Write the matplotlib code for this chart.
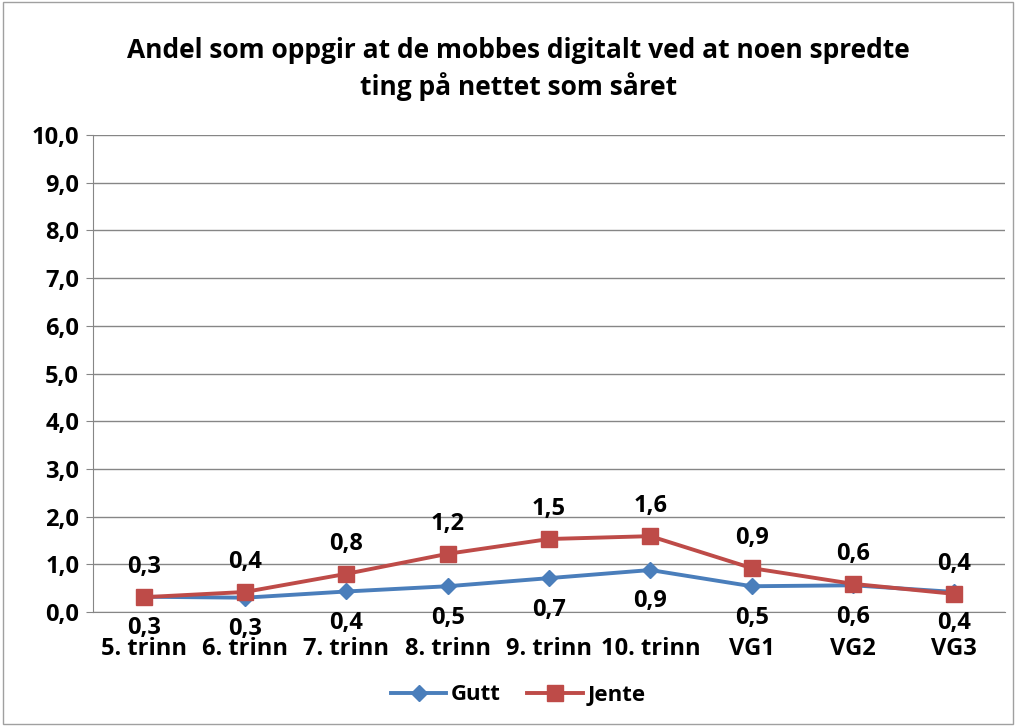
import matplotlib.pyplot as plt
import numpy as np

categories = ['5. trinn', '6. trinn', '7. trinn', '8. trinn', '9. trinn',
              '10. trinn', 'VG1', 'VG2', 'VG3']
gutt = [0.32, 0.30, 0.43, 0.54, 0.71, 0.88, 0.54, 0.56, 0.42]
jente = [0.31, 0.42, 0.80, 1.22, 1.53, 1.59, 0.92, 0.59, 0.38]
gutt_labels = ['0,3', '0,3', '0,4', '0,5', '0,7', '0,9', '0,5', '0,6', '0,4']
jente_labels = ['0,3', '0,4', '0,8', '1,2', '1,5', '1,6', '0,9', '0,6', '0,4']
y_ticks = np.arange(0, 11, 1)

plt.rcParams['font.family'] = ['Open Sans', 'DejaVu Sans']

fig = plt.figure(figsize=(10.16, 7.26), dpi=100)
ax = fig.add_axes([93 / 1016, 1 - 612 / 726, 912 / 1016, 477 / 726])

x = np.arange(len(categories))
ax.plot(x, gutt, color='#4a7ebb', lw=2.8, marker='D', ms=8, label='Gutt', zorder=3)
ax.plot(x, jente, color='#be4b48', lw=2.8, marker='s', ms=11, label='Jente', zorder=4)

for i in x:
    ax.annotate(jente_labels[i], (x[i], jente[i]), xytext=(0, 13), textcoords='offset points',
                ha='center', va='bottom', fontsize=17, fontweight='bold')
    ax.annotate(gutt_labels[i], (x[i], gutt[i]), xytext=(0, -14), textcoords='offset points',
                ha='center', va='top', fontsize=17, fontweight='bold')

ax.set_xlim(-0.5, len(categories) - 0.5)
ax.set_ylim(0, 10)
ax.set_yticks(y_ticks)
ax.set_yticklabels([f'{v:.1f}'.replace('.', ',') for v in y_ticks],
                   fontsize=17, fontweight='bold')
ax.set_xticks(x)
ax.set_xticklabels(categories, fontsize=17, fontweight='bold')
ax.tick_params(axis='x', length=0, pad=18)
ax.tick_params(axis='y', length=5, color='#868686', pad=5)
ax.yaxis.grid(True, color='#868686', lw=1)
ax.set_axisbelow(True)
for s in ['top', 'right']:
    ax.spines[s].set_visible(False)
for s in ['left', 'bottom']:
    ax.spines[s].set_color('#868686')

fig.text(0.51, 1 - 50 / 726, 'Andel som oppgir at de mobbes digitalt ved at noen spredte',
         ha='center', va='center', fontsize=19, fontweight='bold')
fig.text(0.51, 1 - 87 / 726, 'ting på nettet som såret',
         ha='center', va='center', fontsize=19, fontweight='bold')

fig.legend(loc='center', bbox_to_anchor=(0.51, 1 - 695 / 726), ncol=2, frameon=False,
           prop={'size': 16, 'weight': 'bold'}, handlelength=2.5, columnspacing=1.2,
           handletextpad=0.2)

fig.patches.append(plt.Rectangle((0.003, 0.003), 0.994, 0.994, transform=fig.transFigure,
                                 fill=False, edgecolor='#a0a0a0', lw=1))

fig.savefig('out.png', dpi=100)
